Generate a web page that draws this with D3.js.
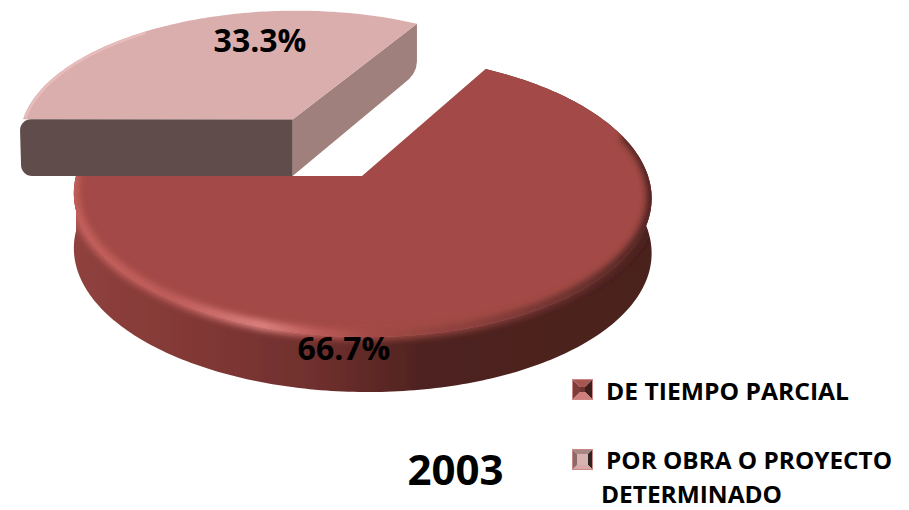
<!DOCTYPE html>
<html>
<head>
<meta charset="utf-8">
<style>html,body{margin:0;padding:0;background:#fff}svg{display:block}text{font-family:"Open Sans",sans-serif;font-weight:700;fill:#000}</style>
<script src="https://cdn.jsdelivr.net/npm/d3@7/dist/d3.min.js"></script>
</head>
<body>
<svg id="c" width="909" height="510"></svg>
<script>
const categories = ["DE TIEMPO PARCIAL", "POR OBRA O PROYECTO DETERMINADO"];
const values = [66.7, 33.3];
const valueLabels = ["66.7%", "33.3%"];
const year = "2003";

const W = 909, H = 510;
const cx = 362, cy = 176, rx = 286, ry = 138.5, k = 0.14, skew = 0.018;
const mainWall = 55, sliceWall = 58, explode = 0.5;
const svg = d3.select("#c").attr("viewBox", [0, 0, W, H]);
const defs = svg.append("defs");

function grad(id, stops) {
  const g = defs.append("linearGradient").attr("id", id)
    .attr("gradientUnits", "userSpaceOnUse").attr("x1", 0).attr("x2", W).attr("y1", 0).attr("y2", 0);
  stops.forEach(s => g.append("stop").attr("offset", s[0] / W).attr("stop-color", s[1]));
}
grad("wallG", [[73, "#8f413e"], [200, "#813835"], [330, "#6c2e2c"], [420, "#4f2320"], [651, "#4a201e"]]);
grad("bevelG", [[70, "#c4605d"], [170, "#c05d5a"], [262, "#e08583"], [320, "#bd5a57"], [372, "#a34a46"], [470, "#8a3f3b"], [660, "#4a221f"]]);
defs.append("filter").attr("id", "soft").attr("x", "-10%").attr("y", "-10%").attr("width", "120%").attr("height", "120%")
  .append("feGaussianBlur").attr("stdDeviation", 3);
defs.append("filter").attr("id", "aa").append("feGaussianBlur").attr("stdDeviation", 0.45);

// The pie layout supplies the slice angles; a perspective projection maps the disc to the page.
const pie = d3.pie().sort(null).startAngle(Math.PI / 6).endAngle(Math.PI / 6 + 2 * Math.PI);
const slices = pie(values);
const project = (u, v) => {
  const d = 1 + k * v;
  return [cx + rx * (u - skew * v) / d, cy - ry * v / d];
};
const line = d3.line();

function sampleArc(a0, a1, off) {
  const n = Math.ceil(Math.abs(a1 - a0) * 60);
  return d3.range(n + 1).map(i => {
    const a = a0 + (a1 - a0) * i / n;
    return project(off[0] + Math.sin(a), off[1] + Math.cos(a));
  });
}

const g = svg.append("g").attr("filter", "url(#aa)");

// --- main slice ---
{
  const s = slices[0], off = [0, 0];
  const arc = sampleArc(s.startAngle, s.endAngle, off);
  const apex = project(off[0], off[1]);
  const lower = arc.map(p => [p[0], p[1] + mainWall]).reverse();
  const wall = line(arc.concat(lower)) + "Z";
  const face = line([apex].concat(arc)) + "Z";
  const clip = defs.append("clipPath").attr("id", "mainClip");
  clip.append("path").attr("d", face);
  clip.append("path").attr("d", wall);
  g.append("path").attr("d", wall).attr("fill", "url(#wallG)");
  g.append("path").attr("d", face).attr("fill", "#a34a46");
  g.append("g").attr("clip-path", "url(#mainClip)").append("path")
    .attr("d", line(sampleArc(s.startAngle + 0.75, s.endAngle, off).map(p => [p[0], p[1] - 2])))
    .attr("fill", "none").attr("stroke", "url(#bevelG)").attr("stroke-width", 10)
    .attr("filter", "url(#soft)");
}

// --- exploded slice ---
{
  const s = slices[1];
  const mid = (s.startAngle + s.endAngle) / 2;
  const off = [explode * Math.sin(mid), explode * Math.cos(mid)];
  const arc = sampleArc(s.startAngle, s.endAngle, off);
  const apex = project(off[0], off[1]);
  const left = arc[0], far = arc[arc.length - 1];
  const r = 11, base = cy - apex[1];

  const front = d3.path();
  front.moveTo(apex[0], apex[1]);
  front.lineTo(left[0] + r, left[1]);
  front.arcTo(left[0] - 3, left[1], left[0] - 3, left[1] + r, r);
  front.lineTo(left[0] - 2, cy - r);
  front.arcTo(left[0] - 2, cy, left[0] + r, cy, r);
  front.lineTo(apex[0], cy);
  front.closePath();

  const side = d3.path();
  side.moveTo(apex[0], apex[1]);
  side.lineTo(far[0], far[1]);
  side.lineTo(far[0], far[1] + base - r - 8);
  side.quadraticCurveTo(far[0], far[1] + base - 6, far[0] - 14, far[1] + base + 4);
  side.lineTo(apex[0], cy);
  side.closePath();

  g.append("path").attr("d", side.toString()).attr("fill", "#a0807c");
  g.append("path").attr("d", line([apex].concat(arc)) + "Z").attr("fill", "#dbaeae");
  g.append("path").attr("d", line(sampleArc(s.startAngle + 0.02, s.startAngle + 0.9, off)))
    .attr("fill", "none").attr("stroke", "#e8bcbb").attr("stroke-width", 2.5).attr("transform", "translate(1.5,1)");
  g.append("path").attr("d", front.toString()).attr("fill", "#604d4b");
}

// --- value labels ---
const labelPos = [[344, 360], [260, 52]];
svg.selectAll("text.val").data(valueLabels).join("text").attr("class", "val")
  .attr("x", (d, i) => labelPos[i][0]).attr("y", (d, i) => labelPos[i][1])
  .attr("text-anchor", "middle").attr("font-size", 32).text(d => d);

svg.append("text").attr("x", 455.5).attr("y", 485).attr("text-anchor", "middle")
  .attr("font-size", 42).text(year);

// --- legend ---
const markerScale = d3.scaleOrdinal().domain(categories).range([379, 449]);
const markerTones = [
  ["#a85654", "#7d3b39", "#3f1f1d", "#d07f7d", "#6f3533", 8],
  ["#a88684", "#8a6a68", "#2f2322", "#d9a9a8", "#d7b4b2", 5]
];
const ms = 21;
categories.forEach((c, i) => {
  const y = markerScale(c), x = 572, t = markerTones[i], inset = t[5];
  const o = [[x, y], [x + ms, y], [x + ms, y + ms], [x, y + ms]];
  const n = [[x + inset, y + inset], [x + ms - inset, y + inset], [x + ms - inset, y + ms - inset], [x + inset, y + ms - inset]];
  const lg = svg.append("g");
  [0, 1, 2, 3].forEach(e => {
    const f = (e + 1) % 4;
    lg.append("path").attr("d", line([o[e], o[f], n[f], n[e]]) + "Z").attr("fill", t[[0, 2, 3, 1][e]]);
  });
  lg.append("path").attr("d", line(n) + "Z").attr("fill", t[4]);
  lg.append("rect").attr("x", x + .5).attr("y", y + .5).attr("width", ms - 1).attr("height", ms - 1)
    .attr("fill", "none").attr("stroke", "#c98886").attr("stroke-width", 1);
});
const legendLines = [
  [categories[0], 606, 400, 243],
  ["POR OBRA O PROYECTO", 606, 469, 286],
  ["DETERMINADO", 601, 503, 181]
];
svg.selectAll("text.leg").data(legendLines).join("text").attr("class", "leg")
  .attr("x", d => d[1]).attr("y", d => d[2]).attr("font-size", 24)
  .attr("textLength", d => d[3]).attr("lengthAdjust", "spacingAndGlyphs").text(d => d[0]);
</script>
</body>
</html>
